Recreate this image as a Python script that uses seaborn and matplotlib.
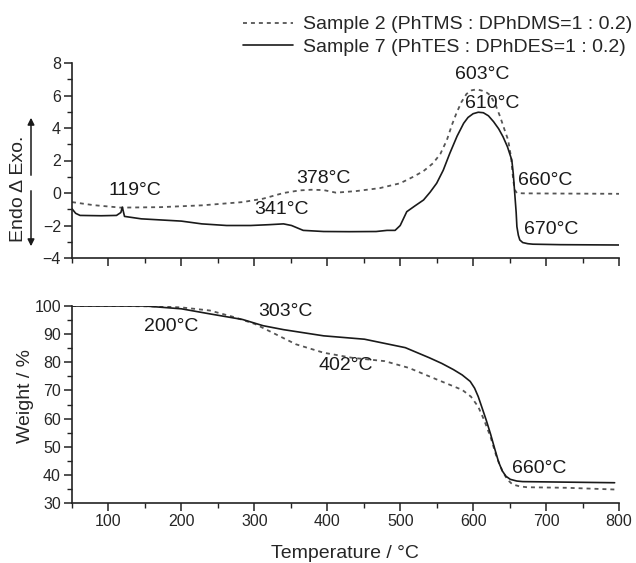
import numpy as np
import pandas as pd
import matplotlib
matplotlib.use("Agg")
import matplotlib.pyplot as plt
from matplotlib.ticker import MultipleLocator
from matplotlib.lines import Line2D
import seaborn as sns

# ---------------- data ----------------
# DSC, sample 2 (dashed)
dsc2_t = [50, 80, 117, 172, 228, 284, 312, 340, 362, 378, 395, 412, 440, 472, 500, 518, 532,
          545, 555, 564, 571, 577, 584, 591, 598, 605, 612, 618, 623, 630, 637, 643, 648, 652,
          655, 657, 660, 668, 700, 750, 800]
dsc2_v = [-0.56, -0.75, -0.9, -0.87, -0.76, -0.56, -0.35, 0.0, 0.16, 0.2, 0.18, 0.02, 0.12, 0.3,
          0.6, 1.0, 1.35, 1.83, 2.4, 3.26, 4.2, 4.9, 5.6, 6.1, 6.32, 6.38, 6.3, 6.2, 6.03, 5.5,
          4.7, 3.9, 3.26, 2.2, 0.8, 0.2, 0.0, -0.02, -0.03, -0.04, -0.05]
# DSC, sample 7 (solid)
dsc7_t = [50, 55, 61, 90, 111, 117, 119, 122, 145, 200, 228, 262, 295, 320, 340, 351, 367, 395,
          430, 467, 482, 493, 500, 509, 520, 532, 541, 550, 559, 568, 578, 587, 593, 600, 607,
          614, 621, 628, 635, 641, 647, 653, 655, 657, 659, 660, 662, 664, 668, 675, 682, 720,
          800]
dsc7_v = [-0.97, -1.25, -1.38, -1.4, -1.38, -1.2, -0.87, -1.44, -1.59, -1.73, -1.9, -2.0, -2.0,
          -1.95, -1.9, -2.0, -2.3, -2.37, -2.38, -2.37, -2.3, -2.3, -2.0, -1.15, -0.8, -0.43,
          0.05, 0.6, 1.4, 2.44, 3.5, 4.29, 4.65, 4.88, 4.97, 4.94, 4.75, 4.39, 3.95, 3.46, 2.85,
          2.03, 1.2, 0.0, -1.2, -2.07, -2.6, -2.89, -3.05, -3.12, -3.15, -3.18, -3.2]
# TGA, sample 2 (dashed)
tga2_t = [50, 120, 172, 200, 239, 273, 301, 329, 357, 395, 434, 479, 512, 551, 585, 597, 607,
          615, 624, 632, 640, 647, 654, 664, 674, 729, 794]
tga2_v = [100, 100, 99.8, 99.5, 98.4, 96.0, 93.6, 90.0, 86.4, 83.4, 81.6, 80.4, 78.0, 73.8, 70.2,
          67.8, 64.2, 59.5, 53.4, 46.5, 41.4, 38.3, 36.6, 35.9, 35.6, 35.4, 34.8]
# TGA, sample 7 (solid)
tga7_t = [50, 150, 200, 239, 284, 312, 340, 395, 451, 507, 540, 557, 573, 585, 596, 602, 607,
          612, 618, 624, 629, 635, 640, 645, 651, 660, 668, 794]
tga7_v = [100, 100, 99.0, 97.2, 95.2, 93.0, 91.6, 89.4, 88.2, 85.2, 81.6, 79.6, 77.4, 75.5, 73.2,
          70.8, 67.8, 64.0, 59.4, 54.4, 49.8, 44.5, 41.4, 39.5, 38.4, 37.8, 37.6, 37.2]

legend_labels = ["Sample 2 (PhTMS : DPhDMS=1 : 0.2)", "Sample 7 (PhTES : DPhDES=1 : 0.2)"]

dsc_notes = [("119°C", 136, 0.16), ("341°C", 337, -1.03), ("378°C", 395, 0.9),
             ("603°C", 612, 7.28), ("610°C", 626, 5.53), ("660°C", 699, 0.78),
             ("670°C", 707, -2.27)]
tga_notes = [("200°C", 186, 92.8), ("303°C", 342, 98.1), ("402°C", 425, 78.9),
             ("660°C", 690, 42.4)]

# ---------------- style ----------------
sns.set_style("ticks")
plt.rcParams['font.family'] = ['Liberation Sans', 'DejaVu Sans']
plt.rcParams['axes.linewidth'] = 1.2

W, H = 636, 563
fig = plt.figure(figsize=(W / 100, H / 100), dpi=100)

def frac_axes(l, r, t, b):
    return fig.add_axes([l / W, 1 - b / H, (r - l) / W, (b - t) / H])

ax1 = frac_axes(72, 619, 63, 258)
ax2 = frac_axes(72, 619, 306, 503)

dash_col = "#555555"
solid_col = "#1a1a1a"
dash_style = (0, (2.2, 2.2))

df_dsc2 = pd.DataFrame({"T": dsc2_t, "v": dsc2_v})
df_dsc7 = pd.DataFrame({"T": dsc7_t, "v": dsc7_v})
df_tga2 = pd.DataFrame({"T": tga2_t, "v": tga2_v})
df_tga7 = pd.DataFrame({"T": tga7_t, "v": tga7_v})

sns.lineplot(data=df_dsc2, x="T", y="v", ax=ax1, color=dash_col, lw=1.3, linestyle=dash_style)
sns.lineplot(data=df_dsc7, x="T", y="v", ax=ax1, color=solid_col, lw=1.2)
sns.lineplot(data=df_tga2, x="T", y="v", ax=ax2, color=dash_col, lw=1.3, linestyle=dash_style)
sns.lineplot(data=df_tga7, x="T", y="v", ax=ax2, color=solid_col, lw=1.2)

for ax in (ax1, ax2):
    ax.set_xlim(50, 800)
    ax.xaxis.set_major_locator(MultipleLocator(100))
    ax.xaxis.set_minor_locator(MultipleLocator(50))
    ax.tick_params(axis='both', which='major', direction='out', length=6, width=1.1,
                   labelsize=11.5, color='#222222', pad=2)
    ax.tick_params(axis='both', which='minor', direction='out', length=3.5, width=1.0,
                   color='#222222')
    for s in ('top', 'right'):
        ax.spines[s].set_visible(False)
    ax.spines['left'].set_color('#222222')
    ax.spines['bottom'].set_color('#222222')
    ax.set_xlabel("")
    ax.set_ylabel("")

ax1.set_ylim(-4, 8)
ax1.yaxis.set_major_locator(MultipleLocator(2))
ax1.yaxis.set_minor_locator(MultipleLocator(1))
ax1.tick_params(axis='x', which='both', labelbottom=False)
ax1.set_xticks(np.arange(100, 801, 100))

ax2.set_ylim(30, 100)
ax2.yaxis.set_major_locator(MultipleLocator(10))
ax2.yaxis.set_minor_locator(MultipleLocator(5))
ax2.set_xticks(np.arange(100, 801, 100))

for txt, x, y in dsc_notes:
    ax1.text(x, y, txt, fontsize=14, ha='center', va='center', color='#1a1a1a')
for txt, x, y in tga_notes:
    ax2.text(x, y, txt, fontsize=14, ha='center', va='center', color='#1a1a1a')

# axis labels
ax2.set_xlabel("Temperature / °C", fontsize=14)
ax2.xaxis.set_label_coords(345 / W, 1 - 553 / H, transform=fig.transFigure)
ax2.set_ylabel("Weight / %", fontsize=14)
ax2.yaxis.set_label_coords(25 / W, 1 - 396 / H, transform=fig.transFigure)

ax1.set_ylabel("Endo Δ Exo.", fontsize=14)
ax1.yaxis.set_label_coords(19 / W, 1 - 189 / H, transform=fig.transFigure)
ax1.yaxis.label.set_va('center')
ax2.yaxis.label.set_va('center')
ax2.xaxis.label.set_va('center')

# arrows next to the DSC label
fig.patches.append(matplotlib.patches.FancyArrowPatch(
    (31 / W, 1 - 178 / H), (31 / W, 1 - 115 / H), transform=fig.transFigure,
    arrowstyle='-|>', mutation_scale=10, lw=1.1, color='#1a1a1a'))
fig.patches.append(matplotlib.patches.FancyArrowPatch(
    (31 / W, 1 - 188 / H), (31 / W, 1 - 249 / H), transform=fig.transFigure,
    arrowstyle='-|>', mutation_scale=10, lw=1.1, color='#1a1a1a'))

# legend
handles = [Line2D([], [], color=dash_col, lw=1.3, linestyle=dash_style),
           Line2D([], [], color=solid_col, lw=1.2)]
fig.legend(handles, legend_labels, loc='upper right', bbox_to_anchor=(640 / W, 1 - 8 / H),
           frameon=False, fontsize=14, handlelength=2.6, handletextpad=0.5,
           labelspacing=0.25, borderaxespad=0)

fig.savefig("out.png", dpi=100)
